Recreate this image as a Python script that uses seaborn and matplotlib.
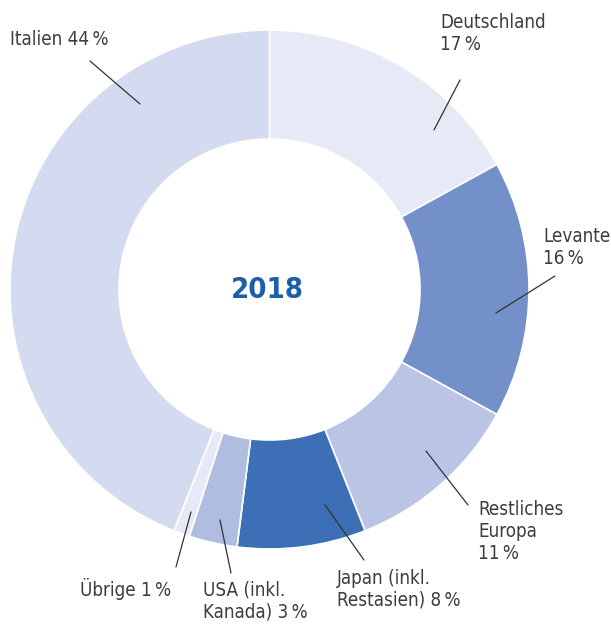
import matplotlib
matplotlib.use("Agg")
import matplotlib.pyplot as plt
import seaborn as sns

sns.set_theme(style="white")
plt.rcParams['font.family'] = ['DejaVu Sans']

categories = ["Deutschland", "Levante", "Restliches Europa", "Japan (inkl. Restasien)",
              "USA (inkl. Kanada)", "Übrige", "Italien"]
values = [17, 16, 11, 8, 3, 1, 44]
labels = ["Deutschland\n17\u2009%", "Levante\n16\u2009%", "Restliches\nEuropa\n11\u2009%",
          "Japan (inkl.\nRestasien) 8\u2009%", "USA (inkl.\nKanada) 3\u2009%", "Übrige 1\u2009%",
          "Italien 44\u2009%"]
colors = ["#e6e9f6", "#7490c9", "#bac4e5", "#3c6fb5", "#afbde0", "#e6e9f6", "#d4daef"]
year = "2018"

W, H = 611, 625
fig = plt.figure(figsize=(W / 100, H / 100), dpi=100)
ax = fig.add_axes([0, 0, 1, 1])
ax.set_xlim(0, W)
ax.set_ylim(0, H)
ax.set_aspect("equal")
ax.axis("off")

cx, cy, R = 269.5, H - 289.5, 259.5
ax.pie(values, colors=colors, startangle=90, counterclock=False, center=(cx, cy),
       radius=R, wedgeprops=dict(width=R * 0.42, edgecolor="white", linewidth=1.2))
ax.set_xlim(0, W)
ax.set_ylim(0, H)

ax.text(267, H - 290, year, ha="center", va="center", fontsize=21, fontweight="bold",
        fontstretch="condensed", color="#1d5fa8")

lines = [((460, 80), (434, 130)),
         ((555, 276), (496, 313)),
         ((468, 505), (426, 451)),
         ((364, 560), (325, 505)),
         ((231, 573), (220, 520)),
         ((176, 567), (191, 512)),
         ((90, 61), (140, 104))]
text_pos = [(440, 13), (543, 227), (478, 500), (337, 569), (203, 580), (80, 578), (10, 30)]
tc = "#3d3d3d"
for (p0, p1), (tx, ty), lab in zip(lines, text_pos, labels):
    ax.plot([p0[0], p1[0]], [H - p0[1], H - p1[1]], color="#333333", lw=0.9)
    ax.text(tx, H - ty, lab, ha="left", va="top", fontsize=13.5, color=tc, linespacing=1.2,
            fontstretch="condensed")

fig.savefig("out.png", dpi=100)
